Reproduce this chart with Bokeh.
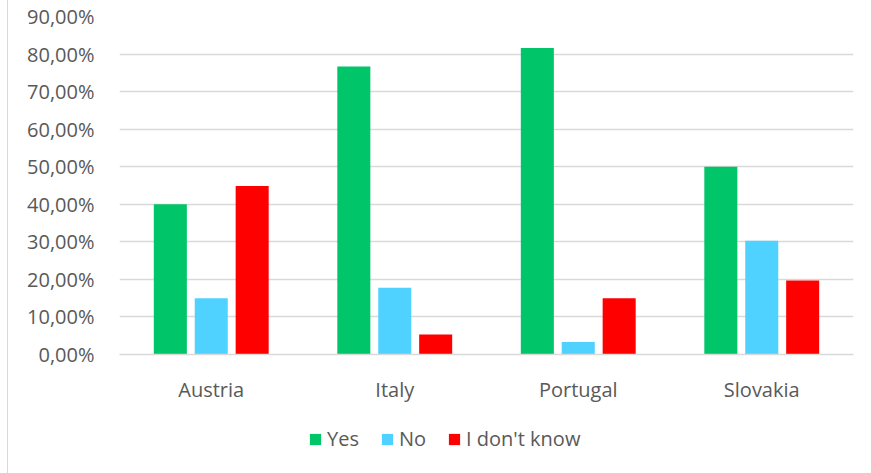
from bokeh.plotting import figure
from bokeh.layouts import column
from bokeh.models import (FactorRange, Range1d, SingleIntervalTicker, CustomJSTickFormatter,
                          Legend, LegendItem, ColumnDataSource)
from bokeh.transform import dodge
from bokeh.embed import file_html
from bokeh.resources import INLINE

countries = ["Austria", "Italy", "Portugal", "Slovakia"]
yes = [0.40, 0.767, 0.816, 0.50]
no = [0.15, 0.178, 0.033, 0.303]
dont_know = [0.449, 0.053, 0.15, 0.197]
series_names = ["Yes", "No", "I don't know"]
colors = ["#00C569", "#4FD2FF", "#FF0000"]

src = ColumnDataSource(dict(country=countries, yes=yes, no=no, idk=dont_know))

FONT = "Open Sans"
TXT = "#595959"
FS = "20px"

p = figure(width=855, height=412, x_range=FactorRange(*countries), y_range=Range1d(0, 0.9),
           output_backend="svg", toolbar_location=None,
           min_border_left=111, min_border_right=10, min_border_top=16, min_border_bottom=58)
p.outline_line_color = None

fields = ["yes", "no", "idk"]
offsets = [-0.223, 0.0, 0.223]
for f, off, c in zip(fields, offsets, colors):
    p.vbar(x=dodge("country", off, range=p.x_range), top=f, width=0.18, source=src,
           fill_color=c, line_color=None)

p.yaxis.ticker = SingleIntervalTicker(interval=0.1)
p.yaxis.formatter = CustomJSTickFormatter(code="return (tick*100).toFixed(2).replace('.', ',') + '%';")
p.yaxis.axis_line_color = None
p.yaxis.major_tick_line_color = None
p.yaxis.minor_tick_line_color = None
p.yaxis.major_label_standoff = 19
p.yaxis.major_label_text_font = FONT
p.yaxis.major_label_text_font_size = FS
p.yaxis.major_label_text_color = TXT

p.xaxis.axis_line_color = "#d9d9d9"
p.xaxis.axis_line_width = 1.5
p.xaxis.major_tick_line_color = None
p.xaxis.minor_tick_line_color = None
p.xaxis.major_label_standoff = 15
p.xaxis.major_label_text_font = FONT
p.xaxis.major_label_text_font_size = FS
p.xaxis.major_label_text_color = TXT

p.xgrid.grid_line_color = None
p.ygrid.grid_line_color = "#d9d9d9"
p.ygrid.grid_line_width = 1.5

# legend strip below the chart (same series, drawn outside its visible y-range)
lg = figure(width=855, height=61, x_range=p.x_range, y_range=Range1d(5, 6),
            output_backend="svg", toolbar_location=None,
            min_border_left=111, min_border_right=10, min_border_top=0, min_border_bottom=0)
lg.axis.visible = False
lg.grid.visible = False
lg.outline_line_color = None
leg_renderers = [lg.vbar(x=dodge("country", off, range=lg.x_range), top=f, width=0.18, source=src,
                         fill_color=c, line_color=None)
                 for f, off, c in zip(fields, offsets, colors)]
legend = Legend(items=[LegendItem(label=n, renderers=[r]) for n, r in zip(series_names, leg_renderers)],
                orientation="horizontal", location=(189, 21),
                glyph_width=14, glyph_height=14, label_standoff=5, spacing=21,
                padding=0, margin=0, border_line_color=None, background_fill_alpha=0,
                label_text_font=FONT, label_text_font_size=FS, label_text_color=TXT)
lg.add_layout(legend, "center")

layout = column(p, lg, spacing=0, styles={"margin-left": "7px", "border-left": "1px solid #d9d9d9"})

open("out.html", "w").write(file_html(layout, INLINE))
